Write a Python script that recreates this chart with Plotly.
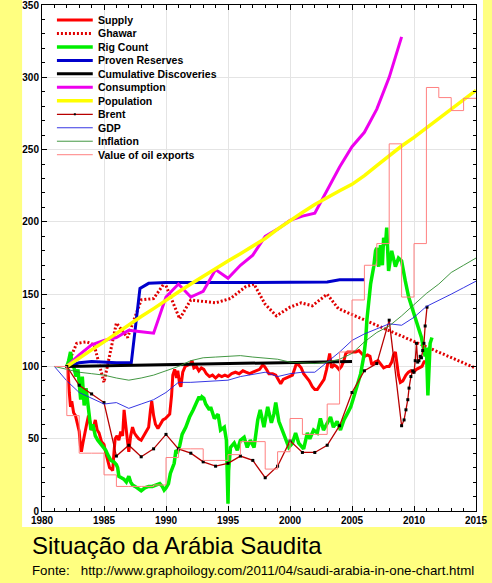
import plotly.graph_objects as go

# ---------------- data ----------------
supply_x = [1982.00,1982.10,1982.20,1982.30,1982.40,1982.55,1982.70,1982.85,1983.00,1983.10,1983.18,1983.30,1983.45,1983.60,1983.75,1983.85,1984.00,1984.15,1984.30,1984.45,1984.60,1984.80,1985.00,1985.15,1985.30,1985.45,1985.60,1985.70,1985.80,1985.90,1986.05,1986.20,1986.35,1986.50,1986.62,1986.75,1986.90,1987.00,1987.15,1987.30,1987.45,1987.60,1987.80,1988.00,1988.20,1988.40,1988.60,1988.75,1988.85,1989.00,1989.15,1989.35,1989.55,1989.75,1989.95,1990.15,1990.30,1990.45,1990.55,1990.70,1990.85,1990.95,1991.10,1991.20,1991.35,1991.55,1991.80,1992.00,1992.10,1992.25,1992.45,1992.65,1992.85,1993.05,1993.25,1993.50,1993.75,1994.00,1994.25,1994.50,1994.75,1995.00,1995.30,1995.60,1995.90,1996.20,1996.45,1996.75,1997.00,1997.30,1997.55,1997.80,1997.95,1998.10,1998.30,1998.60,1998.85,1999.05,1999.25,1999.45,1999.70,1999.95,2000.20,2000.40,2000.55,2000.70,2000.90,2001.10,2001.30,2001.55,2001.80,2002.00,2002.20,2002.35,2002.55,2002.75,2002.95,2003.10,2003.20,2003.35,2003.55,2003.75,2003.95,2004.15,2004.35,2004.50,2004.65,2004.85,2005.05,2005.30,2005.55,2005.80,2006.00,2006.25,2006.45,2006.60,2006.85,2007.10,2007.35,2007.55,2007.80,2008.00,2008.20,2008.35,2008.50,2008.60,2008.75,2008.90,2009.10,2009.35,2009.55,2009.75,2009.95,2010.20,2010.45,2010.65,2010.80,2010.90]
supply_y = [100,98,82,72,76,68,66,60,55,45,41,47,55,60,66,62,56,58,63,56,54,48,46,40,35,30,29,28,40,50,52,49,55,52,70,58,48,41,52,58,54,52,50,49,52,55,58,70,76,66,60,57,60,63,64,66,67,80,94,98,92,97,88,86,96,100,101,102,104,99,100,97,99,98,95,93,94,92,94,93,94,93,95,96,95,97,96,95,96,97,98,101,100,98,95,95,94,91,88,91,92,93,94,99,103,101,99,95,93,90,86,84,84,86,88,91,98,104,109,99,101,100,98,100,104,109,110,110,110,110,111,109,107,108,107,101,103,104,101,99,100,100,103,108,110,104,94,89,90,94,96,97,96,98,99,100,103,104]

ghawar_x = [1982.0,1982.8,1983.6,1984.2,1985.0,1986.0,1986.9,1988.0,1989.0,1989.9,1991.1,1992.0,1993.0,1994.0,1995.2,1996.4,1997.1,1997.5,1998.0,1998.9,2000.0,2000.9,2001.8,2003.0,2003.9,2015.0]
ghawar_y = [100,116,117,115,89,130,120,146,147,158,133,146,145,144,147,155,157,151,143,135,141,144,142,150,140,98.7]

rig_x = [1982.00,1982.15,1982.30,1982.40,1982.55,1982.75,1982.90,1983.00,1983.12,1983.25,1983.40,1983.55,1983.70,1983.80,1983.95,1984.10,1984.30,1984.50,1984.75,1985.00,1985.15,1985.30,1985.55,1985.80,1986.00,1986.10,1986.20,1986.40,1986.60,1986.80,1987.00,1987.15,1987.30,1987.50,1987.70,1988.00,1988.30,1988.60,1988.90,1989.20,1989.50,1989.70,1989.85,1990.00,1990.20,1990.35,1990.50,1990.66,1990.80,1990.95,1991.10,1991.30,1991.60,1991.90,1992.20,1992.40,1992.67,1992.80,1992.90,1993.05,1993.20,1993.50,1993.60,1993.90,1994.20,1994.40,1994.70,1994.87,1994.95,1995.00,1995.05,1995.20,1995.50,1995.75,1996.00,1996.30,1996.55,1996.80,1997.10,1997.40,1997.60,1997.90,1998.20,1998.50,1998.70,1998.85,1999.10,1999.40,1999.60,1999.90,2000.20,2000.45,2000.70,2001.10,2001.40,2001.60,2001.90,2002.20,2002.45,2002.70,2003.00,2003.27,2003.50,2003.80,2004.07,2004.35,2004.60,2004.90,2005.15,2005.40,2005.70,2005.95,2006.10,2006.20,2006.35,2006.50,2006.75,2006.90,2007.00,2007.15,2007.30,2007.45,2007.55,2007.70,2007.80,2007.95,2008.20,2008.50,2008.75,2009.00,2009.30,2009.57,2009.83,2010.10,2010.40,2010.60,2010.75,2010.90,2011.00,2011.12,2011.30,2011.45]
rig_y = [100,104,110,104,100,93,98,88,77,93,73,85,72,65,56,60,52,49,46,44,42,39,35,34,32,30,24,23,22,20,24,20,18,17,16,14,16,17,17,18,19,17,14.5,16,19,26,30,33,42,41,45,53,58,65,70,74,79,77,79,78,74,70,72,64,67,56,58,49,28,5,28,44,47,42,49,51,44,49,44,63,70,58,72,61,67,75,62,56,51,44,47,54,47,43,54,50,56,54,64,56,61,65,58,62,56,63,67,72,79,86,95,107,118,132,146,157,169,180,182,169,184,170,189,184,196,166,180,169,175,173,159,148,141,134,127,120,113,107,113,80,116,120]

reserves_x = [1982.0,1983.0,1984.0,1985.0,1986.0,1987.2,1987.9,1988.6,1990.0,1995.0,2000.0,2003.0,2004.0,2006.0]
reserves_y = [100,102.5,103.5,103,102.5,102.5,154,157.5,158,158,158,158.5,160,160]

discov_x = [1982,1985,1990,1995,2000,2005]
discov_y = [100,100.5,101.5,102,103,103.5]

consum_x = [1982,1983,1984,1985,1986,1987,1988,1989,1990,1991,1992,1993,1994,1995,1996,1997,1998,1999,2000,2001,2002,2003,2004,2005,2006,2007,2008,2009]
consum_y = [100,108,115,118,120,125,124,123,148,157,148,152,167,161,170,177,190,195,201,204,206,222,238,252,262,278,300,328]

pop_x = list(range(1982, 2016))
pop_y = [100,106,111.5,117,123,129,134.5,140,146,151.5,157,162.5,168,173,178,183,188.5,195,201,206.5,212,217,221.5,226,232,239,246,252.5,258.5,265,272,278.5,285,291]

brent_x = [1982,1983,1984,1985,1986,1987,1988,1989,1990,1991,1992,1993,1994,1995,1996,1997,1998,1999,2000,2001,2002,2003,2004,2005,2006,2007,2008,2009.0,2009.2,2009.35,2009.5,2009.6,2009.75,2009.9,2010.0,2010.1,2010.2,2010.3,2010.4,2010.5,2010.6,2010.7,2010.8,2010.9,2011.05]
brent_y = [100,87,81,75,38,45.5,37.5,43,53,43,40,34,31,33,38,35,23,31,48.5,40.5,40.5,45.5,59,82,97,102,132,59,63,70,77,85,93,97,96,104,116,103,104,107,106,111,116,128,141]

gdp_x = list(range(1981, 2016))
gdp_y = [100,90,82,78,74,75,71,74,77,82,89,89,89.5,90,90.5,93,94.5,96,93,95,96,96,103,110,118,122.5,126,129.5,128.5,134,141.5,145.5,150,154.5,159]

infl_x = list(range(1981, 2016))
infl_y = [100,98,96,95,94,92,90.5,92,94,97,100,104,106,106.5,107,107.5,106.5,106,105,103,102.5,102,103,105,109,117,123.5,128,135,143,150.5,157,165,170,175]

exports_x = list(range(1981, 2016))
exports_y = [100,66,40,40,25,17,17,17,18,37,43,43,35,35,39,48,48,29,41,64,53,53,74,110,146,170,185,254,148,185,293,286,277,285.5,285.5]

names = ["Supply","Ghawar","Rig Count","Proven Reserves","Cumulative Discoveries",
         "Consumption","Population","Brent","GDP","Inflation","Value of oil exports"]

x_ticks = [1980,1985,1990,1995,2000,2005,2010,2015]
y_ticks = [0,50,100,150,200,250,300,350]

title_text = "Situação da Arábia Saudita"
source_text = "Fonte:\u00a0\u00a0\u00a0http://www.graphoilogy.com/2011/04/saudi-arabia-in-one-chart.html"

# ---------------- styles ----------------
FONT = "Liberation Sans, Arial, sans-serif"
styles = {
    "Supply": dict(color="#FF0000", width=3),
    "Ghawar": dict(color="#E00000", width=3, dash="2px,2px"),
    "Rig Count": dict(color="#00EE00", width=3.5),
    "Proven Reserves": dict(color="#0000CC", width=3),
    "Cumulative Discoveries": dict(color="#000000", width=3),
    "Consumption": dict(color="#EE00EE", width=3),
    "Population": dict(color="#FFFF00", width=3.5),
    "Brent": dict(color="#B80000", width=1.3),
    "GDP": dict(color="#2020E0", width=0.9),
    "Inflation": dict(color="#2E8B2E", width=0.9),
    "Value of oil exports": dict(color="#FF8080", width=1),
}

series = {
    "Supply": (supply_x, supply_y),
    "Ghawar": (ghawar_x, ghawar_y),
    "Rig Count": (rig_x, rig_y),
    "Proven Reserves": (reserves_x, reserves_y),
    "Cumulative Discoveries": (discov_x, discov_y),
    "Consumption": (consum_x, consum_y),
    "Population": (pop_x, pop_y),
    "Brent": (brent_x, brent_y),
    "GDP": (gdp_x, gdp_y),
    "Inflation": (infl_x, infl_y),
    "Value of oil exports": (exports_x, exports_y),
}

fig = go.Figure()
for nm in names:
    xs, ys = series[nm]
    kw = dict(x=xs, y=ys, name=nm, mode="lines", line=styles[nm], showlegend=False)
    if nm == "Brent":
        kw["mode"] = "lines+markers"
        kw["marker"] = dict(symbol="square", size=3, color="black")
    if nm == "Value of oil exports":
        kw["line"] = dict(styles[nm], shape="hv")
    fig.add_trace(go.Scatter(**kw))

W, H = 492, 583
ML, MR, MT, MB = 42, 14, 4, 72
PW, PH = W - ML - MR, H - MT - MB

def px(xp):
    return (xp - ML) / PW

def py(yp):
    return (H - MB - yp) / PH

shapes = [dict(type="rect", xref="paper", yref="paper",
               x0=px(22), x1=px(485), y0=py(527), y1=py(-2),
               fillcolor="white", line=dict(width=0), layer="below")]
annotations = []

# manual legend (compact rows as in the original)
row0, step = 19, 13.5
for i, nm in enumerate(names):
    yy = py(row0 + i * step)
    st = styles[nm]
    sw = dict(type="line", xref="paper", yref="paper", x0=px(57), x1=px(93), y0=yy, y1=yy,
              line=dict(color=st["color"], width=st["width"], dash=st.get("dash", "solid")))
    shapes.append(sw)
    if nm == "Brent":
        shapes.append(dict(type="rect", xref="paper", yref="paper",
                           x0=px(74), x1=px(76), y0=yy - 1 / PH, y1=yy + 1 / PH,
                           fillcolor="black", line=dict(width=0)))
    annotations.append(dict(xref="paper", yref="paper", x=px(96), y=yy, text=nm,
                            xanchor="left", yanchor="middle", showarrow=False,
                            font=dict(family=FONT, size=10.5, color="black", weight="bold")))

annotations.append(dict(xref="paper", yref="paper", x=px(30), y=py(546), text=title_text,
                        xanchor="left", yanchor="middle", showarrow=False,
                        font=dict(family=FONT, size=24, color="black")))
annotations.append(dict(xref="paper", yref="paper", x=px(30), y=py(571), text=source_text,
                        xanchor="left", yanchor="middle", showarrow=False,
                        font=dict(family=FONT, size=13.3, color="black")))

axis_common = dict(showline=True, linecolor="black", linewidth=1, mirror="ticks",
                   ticks="inside", tickcolor="black", showgrid=True, gridcolor="#E4E4E4",
                   gridwidth=1, zeroline=False, ticklabeloverflow="allow",
                   tickfont=dict(family=FONT, size=10, color="black", weight="bold"))

fig.update_layout(
    width=W, height=H,
    margin=dict(l=ML, r=MR, t=MT, b=MB),
    paper_bgcolor="#FFFF80", plot_bgcolor="white",
    showlegend=False,
    xaxis=dict(axis_common, range=[1980, 2015], tickvals=x_ticks, ticklen=5,
               minor=dict(dtick=1, tick0=1980, ticklen=3, ticks="inside", tickcolor="black", showgrid=False)),
    yaxis=dict(axis_common, range=[0, 350.05], tickvals=y_ticks, ticklen=5, automargin=False,
               minor=dict(dtick=10, tick0=0, ticklen=3, ticks="inside", tickcolor="black", showgrid=False)),
    shapes=shapes, annotations=annotations,
)

fig.write_html("out.html")
